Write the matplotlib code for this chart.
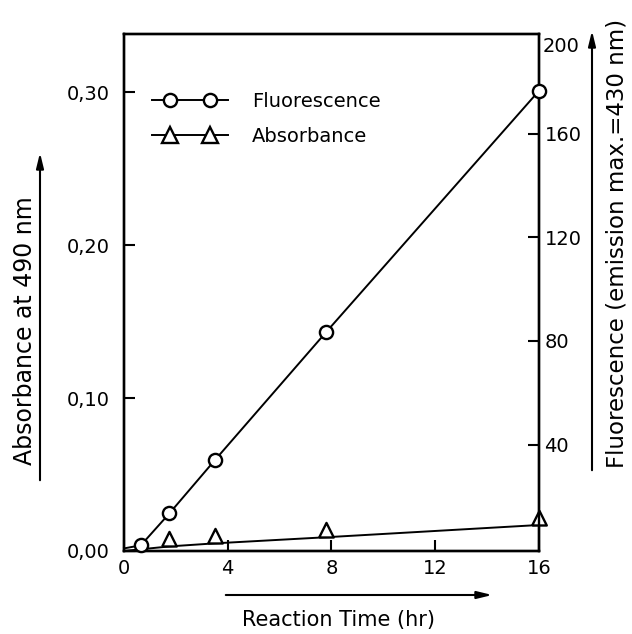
import matplotlib
matplotlib.use("Agg")
import numpy as np
import matplotlib.pyplot as plt
from matplotlib.lines import Line2D
from matplotlib.legend_handler import HandlerLine2DCompound

# Data
time_fluor = [0, 0.65, 1.75, 3.5, 7.8, 16]
fluorescence = [0, 1.2, 13.5, 34, 83.5, 176.5]
time_abs = [0, 1.75, 3.5, 7.8, 16]
absorbance = [0, 0.003, 0.005, 0.009, 0.017]

x_ticks = [0, 4, 8, 12, 16]
left_ticks = [0.0, 0.10, 0.20, 0.30]
left_labels = ["0,00", "0,10", "0,20", "0,30"]
right_ticks = [40, 80, 120, 160]
right_labels = ["40", "80", "120", "160"]
right_top_label = "200"

plt.rcParams['font.family'] = ['DejaVu Sans']
W, H = 632, 634
fig = plt.figure(figsize=(W / 100, H / 100), dpi=100)
ax = fig.add_axes([124 / W, 1 - 551 / H, (539 - 124) / W, (551 - 34) / H])
ax2 = ax.twinx()

# triangle marker with its base on the data point
tri = [(-1, 0), (1, 0), (0, 2), (-1, 0)]

lw = 1.4
l1, = ax2.plot(time_fluor, fluorescence, color='black', lw=lw, marker='o',
               markersize=9.5, markerfacecolor='white', markeredgewidth=1.7,
               markevery=list(range(1, len(time_fluor))), label='Fluorescence',
               clip_on=False, zorder=3)
l2, = ax.plot(time_abs, absorbance, color='black', lw=lw, marker=tri,
              markersize=21, markerfacecolor='white', markeredgewidth=1.7,
              markevery=list(range(1, len(time_abs))), label='Absorbance',
              clip_on=False, zorder=3)

ax.set_xticks(x_ticks)
ax.set_xticklabels([str(t) for t in x_ticks])
ax.set_yticks(left_ticks)
ax.set_yticklabels(left_labels)
ax2.set_yticks(right_ticks)
ax2.set_yticklabels(right_labels)

ax.set_xlim(0, 16)
ax.set_ylim(0, 0.338)
ax2.set_ylim(-1, 198.4)
ax2.text(1.008, 0.995, right_top_label, transform=ax2.transAxes, ha='left',
         va='top', fontsize=14)

for a in (ax, ax2):
    a.tick_params(direction='in', length=8, width=1.5, labelsize=14)
    for s in a.spines.values():
        s.set_linewidth(1.7)
ax.tick_params(axis='y', pad=10)
ax.tick_params(axis='x', pad=6)
ax2.tick_params(axis='y', pad=4)


class FullLineHandler(HandlerLine2DCompound):
    """Line spans the whole handle; markers sit inset from the ends."""
    def get_xdata(self, legend, xdescent, ydescent, width, height, fontsize):
        xdata = np.array([-xdescent, width - xdescent], float)
        xm = np.linspace(-xdescent + self._marker_pad * fontsize,
                         width - xdescent - self._marker_pad * fontsize, 2)
        return xdata, xm


h1 = Line2D([], [], color='black', lw=lw, marker='o', markersize=9.5,
            markerfacecolor='white', markeredgewidth=1.7)
h2 = Line2D([], [], color='black', lw=lw, marker='^', markersize=11,
            markerfacecolor='white', markeredgewidth=1.7)
leg = ax.legend(handles=[h1, h2], labels=['Fluorescence', 'Absorbance'],
                loc='upper left', bbox_to_anchor=(0.0675, 0.8886),
                frameon=False, fontsize=14, numpoints=2, handlelength=3.9,
                handletextpad=1.25, labelspacing=0.83, borderaxespad=0,
                borderpad=0,
                handler_map={Line2D: FullLineHandler(marker_pad=0.93, numpoints=2)})

# Axis labels with arrows
fig.text(25 / W, 1 - 331 / H, "Absorbance at 490 nm", rotation=90,
         ha='center', va='center', fontsize=17)
fig.text(617 / W, 1 - 243 / H, "Fluorescence (emission max.=430 nm)", rotation=90,
         ha='center', va='center', fontsize=16.5)
fig.text(339 / W, 1 - 620 / H, "Reaction Time (hr)", ha='center', va='center',
         fontsize=15)

arrow_kw = dict(arrowstyle='-|>,head_length=0.9,head_width=0.22', color='black', lw=1.5)
ax.annotate('', xy=(40, H - 150), xytext=(40, H - 483), xycoords='figure pixels',
            textcoords='figure pixels', arrowprops=arrow_kw)
ax.annotate('', xy=(592, H - 28), xytext=(592, H - 473), xycoords='figure pixels',
            textcoords='figure pixels', arrowprops=arrow_kw)
ax.annotate('', xy=(495, H - 595), xytext=(223, H - 595), xycoords='figure pixels',
            textcoords='figure pixels', arrowprops=arrow_kw)

fig.savefig("out.png", dpi=100)
